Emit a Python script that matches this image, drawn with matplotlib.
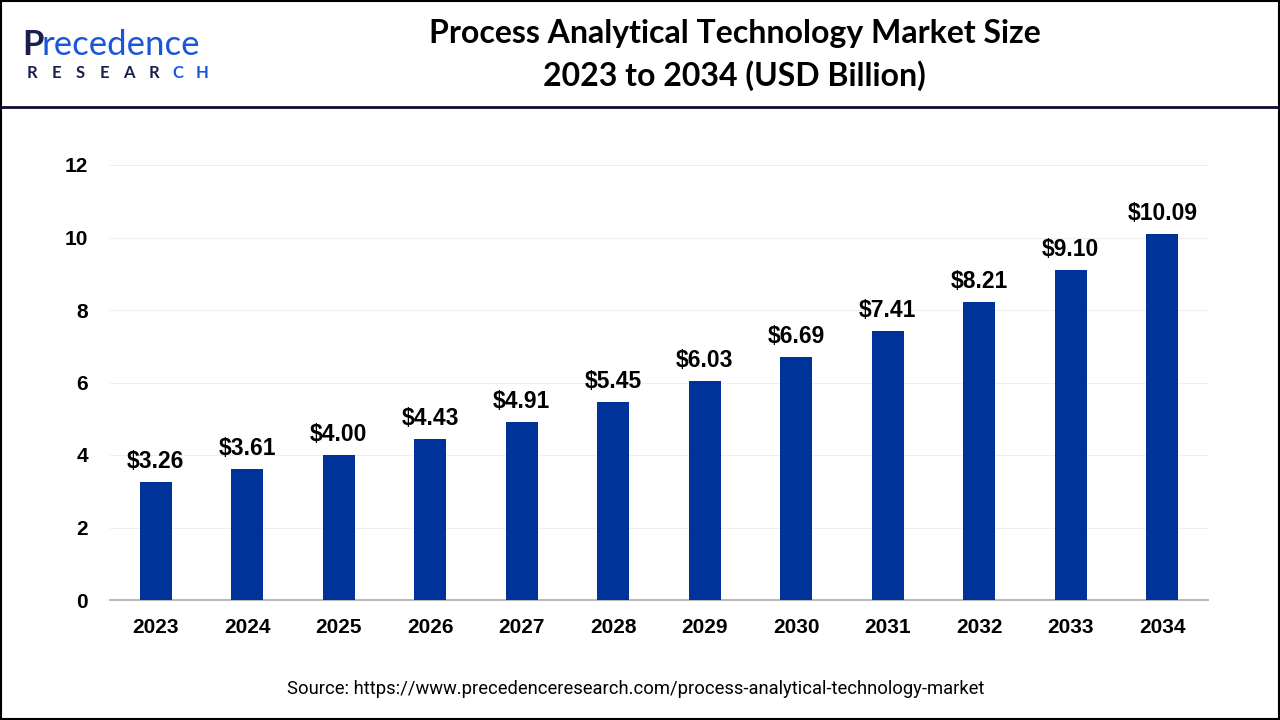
import matplotlib.pyplot as plt
from matplotlib.lines import Line2D
from matplotlib.patches import Rectangle

years = ["2023", "2024", "2025", "2026", "2027", "2028",
         "2029", "2030", "2031", "2032", "2033", "2034"]
values = [3.26, 3.61, 4.00, 4.43, 4.91, 5.45, 6.03, 6.69, 7.41, 8.21, 9.10, 10.09]
yticks = [0, 2, 4, 6, 8, 10, 12]

bar_color = "#003399"
navy = "#1a1f4e"
blue = "#1a56db"

fig = plt.figure(figsize=(12.8, 7.2), dpi=100)

# outer frame and header separator
fig.patches.append(Rectangle((0.001, 0.001), 0.998, 0.998, transform=fig.transFigure,
                             fill=False, edgecolor="black", linewidth=1.5))
fig.add_artist(Line2D([0, 1], [1 - 107 / 720] * 2, transform=fig.transFigure,
                      color="#0d0d2b", linewidth=2))

# logo
fig.text(22 / 1280, 1 - 45 / 720, "P", fontsize=25, color=navy,
         family="Lato", fontweight="bold", va="center", ha="left")
fig.text(42 / 1280, 1 - 45 / 720, "recedence", fontsize=25, color=blue,
         family="Lato", va="center", ha="left")
for i, ch in enumerate("RESEARCH"):
    fig.text((32 + i * 24.3) / 1280, 1 - 73 / 720, ch, fontsize=12,
             color=navy if i < 6 else blue, family="Lato", fontweight="bold",
             va="center", ha="center")

# title
fig.text(0.574, 1 - 34 / 720, "Process Analytical Technology Market Size",
         fontsize=23, fontweight="bold", family="Lato", ha="center", va="center")
fig.text(0.574, 1 - 76 / 720, "2023 to 2034 (USD Billion)",
         fontsize=23, fontweight="bold", family="Lato", ha="center", va="center")

ax = fig.add_axes([110 / 1280, 1 - 600 / 720, 1098 / 1280, 435 / 720])
x = range(len(years))
bars = ax.bar(x, values, width=0.35, color=bar_color, zorder=3)
for b, v in zip(bars, values):
    ax.text(b.get_x() + b.get_width() / 2, v + 0.25, f"${v:.2f}",
            ha="center", va="bottom", fontsize=16.5, fontweight="bold",
            family="Liberation Sans")

ax.set_xlim(-0.5, len(years) - 0.5)
ax.set_ylim(0, 12)
ax.set_yticks(yticks)
ax.set_xticks(list(x))
ax.set_xticklabels(years)
ax.grid(axis="y", color="#eeeeee", linewidth=0.8, zorder=0)
for s in ["top", "right", "left"]:
    ax.spines[s].set_visible(False)
ax.spines["bottom"].set_color("#bbbbbb")
ax.spines["bottom"].set_linewidth(1.5)
ax.tick_params(length=0, labelsize=15)
ax.tick_params(axis="x", pad=13)
ax.tick_params(axis="y", pad=16)
for lbl in ax.get_xticklabels() + ax.get_yticklabels():
    lbl.set_fontweight("bold")
    lbl.set_family("Liberation Sans")

fig.text(0.497, 1 - 689 / 720,
         "Source: https://www.precedenceresearch.com/process-analytical-technology-market",
         fontsize=13.2, ha="center", va="center", family=["Liberation Sans Narrow", "Roboto"])

fig.savefig("out.png", dpi=100)
